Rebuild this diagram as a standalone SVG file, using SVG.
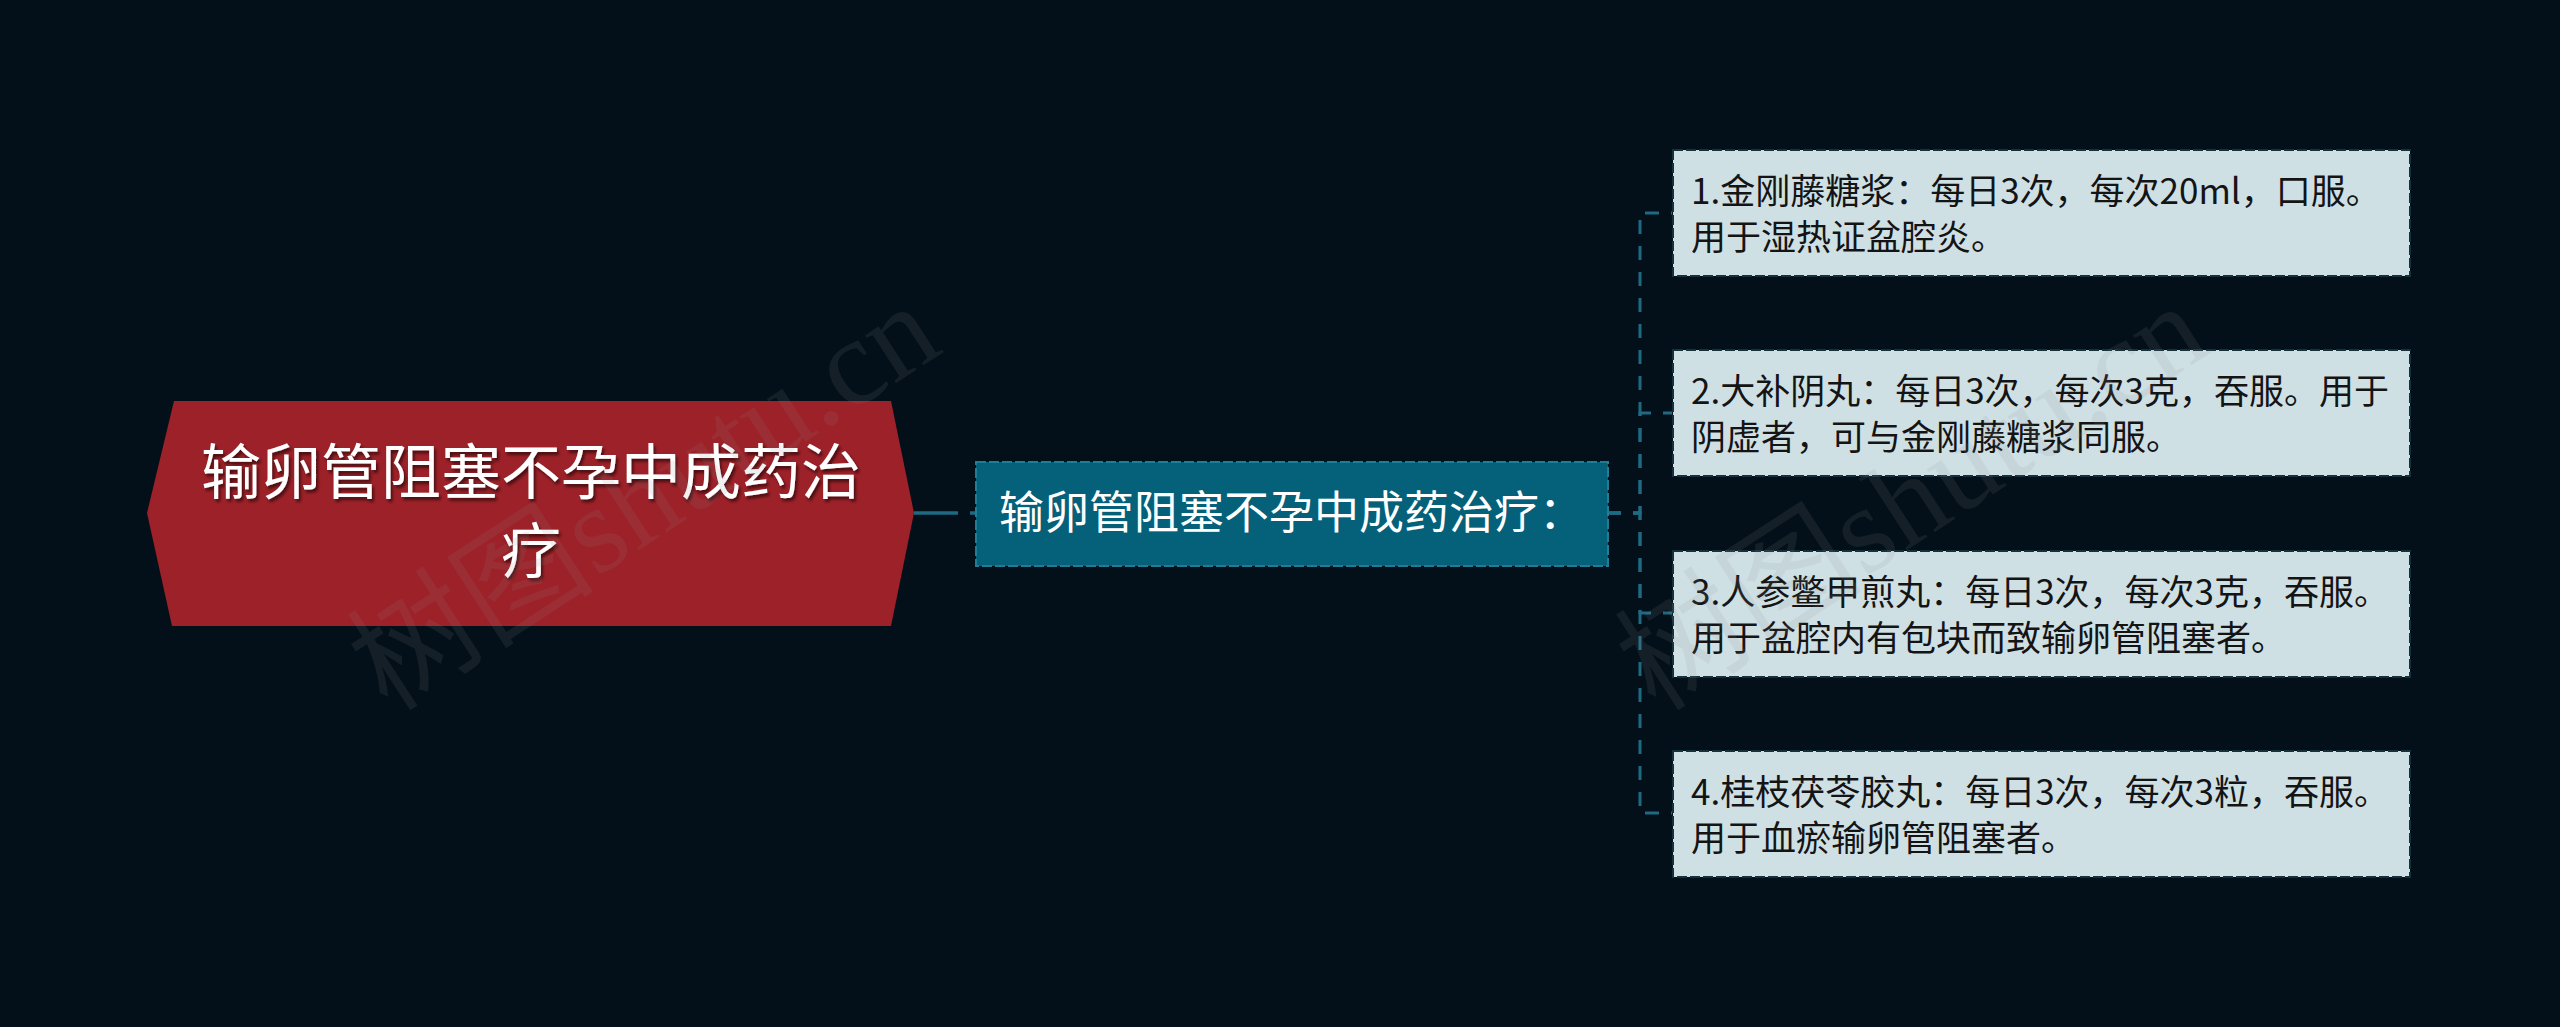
<svg xmlns="http://www.w3.org/2000/svg" width="2560" height="1027" viewBox="0 0 2560 1027">
  <defs>
    <filter id="shadow" x="-10%" y="-10%" width="120%" height="130%">
      <feDropShadow dx="2" dy="3" stdDeviation="1.5" flood-color="#000" flood-opacity="0.55"/>
    </filter>
  </defs>
  <style>
    text { font-family: "Noto Sans CJK SC", "Noto Sans", sans-serif; }
    .root-text { fill: #ffffff; font-size: 60px; }
    .mid-text { fill: #ffffff; font-size: 45px; }
    .leaf-text { fill: #141414; font-size: 35px; }
    .leaf-box { fill: #cfe0e5; stroke: #15313b; stroke-width: 2; stroke-dasharray: 10 3; }
    .mid-box { fill: #05607a; stroke: #1f7e96; stroke-width: 2; stroke-dasharray: 10 3; }
    .conn { fill: none; stroke: #1f6a82; stroke-width: 3.5; }
    .conn-leaf { stroke-dasharray: 14 12; stroke-width: 3; }
    .wm { font-family: "Liberation Serif", "Noto Sans CJK SC", serif; font-size: 124px; fill: #8a8a8a; fill-opacity: 0.13; }
  </style>
  <rect x="0" y="0" width="2560" height="1027" fill="#03101a"/>

  <g id="connectors">
    <path class="conn" d="M914,513 L958,513 M970,513 L976,513"/>
    <path class="conn conn-leaf" d="M1607,513 L1640,513 L1640,213 L1672,213"/>
    <path class="conn conn-leaf" d="M1607,513 L1640,513 L1640,413 L1672,413"/>
    <path class="conn conn-leaf" d="M1607,513 L1640,513 L1640,613 L1672,613"/>
    <path class="conn conn-leaf" d="M1607,513 L1640,513 L1640,813 L1672,813"/>
  </g>

  <g id="root">
    <polygon points="174,401 891,401 914,513 891,626 172,626 147,513" fill="#9d2128"/>
    <text class="root-text" filter="url(#shadow)" text-anchor="middle" x="531" y="494">输卵管阻塞不孕中成药治</text>
    <text class="root-text" filter="url(#shadow)" text-anchor="middle" x="531" y="573">疗</text>
  </g>

  <g id="middle">
    <rect class="mid-box" x="976" y="462" width="632" height="104"/>
    <text class="mid-text" x="999" y="529">输卵管阻塞不孕中成药治疗：</text>
  </g>

  <g id="leaf1">
    <rect class="leaf-box" x="1673" y="150" width="737" height="126"/>
    <text class="leaf-text" x="1691" y="204">1.金刚藤糖浆：每日3次，每次20ml，口服。</text>
    <text class="leaf-text" x="1691" y="250">用于湿热证盆腔炎。</text>
  </g>

  <g id="leaf2">
    <rect class="leaf-box" x="1673" y="350" width="737" height="126"/>
    <text class="leaf-text" x="1691" y="404">2.大补阴丸：每日3次，每次3克，吞服。用于</text>
    <text class="leaf-text" x="1691" y="450">阴虚者，可与金刚藤糖浆同服。</text>
  </g>

  <g id="leaf3">
    <rect class="leaf-box" x="1673" y="551" width="737" height="126"/>
    <text class="leaf-text" x="1691" y="605">3.人参鳖甲煎丸：每日3次，每次3克，吞服。</text>
    <text class="leaf-text" x="1691" y="651">用于盆腔内有包块而致输卵管阻塞者。</text>
  </g>

  <g id="leaf4">
    <rect class="leaf-box" x="1673" y="751" width="737" height="126"/>
    <text class="leaf-text" x="1691" y="805">4.桂枝茯苓胶丸：每日3次，每次3粒，吞服。</text>
    <text class="leaf-text" x="1691" y="851">用于血瘀输卵管阻塞者。</text>
  </g>

  <g id="watermarks">
    <text class="wm" transform="translate(388,713) rotate(-33)">树图shutu.cn</text>
    <text class="wm" transform="translate(1656,713) rotate(-33)">树图shutu.cn</text>
  </g>
</svg>
